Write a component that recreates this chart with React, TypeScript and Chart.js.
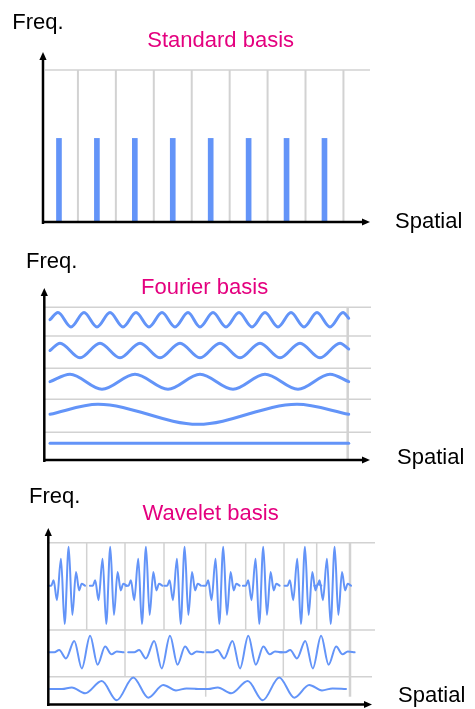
import React, { useEffect, useRef } from 'react';
import { Chart, registerables } from 'chart.js';
Chart.register(...registerables);

// ---------- Panel 1: Standard basis ----------
const standardCells = [0.5, 1.5, 2.5, 3.5, 4.5, 5.5, 6.5, 7.5];
const standardHeights = [0.55, 0.55, 0.55, 0.55, 0.55, 0.55, 0.55, 0.55];
const standardDividers = [1, 2, 3, 4, 5, 6, 7, 8];

// ---------- Panel 2: Fourier basis (extrema positions, spatial units) ----------
const fourierFlat: number[] = [];
const fourierSlow = [48, 148, 247];
const fourierMid = [20, 52, 85, 118, 150, 183, 215, 248, 280];
const fourierHigh = [10, 30, 50, 70, 90, 110, 130, 150, 170, 190, 210, 230, 250, 270, 290];
const fourierHighest = [8, 21, 34, 47, 60, 73, 86, 99, 112, 125, 138, 150, 163, 176, 189, 202, 215, 228, 241, 254, 267, 280, 293];
const fourierEndValues = [0, 0, 0, 0.2, 0.2];
const fourierLevels = [16.7, 45.7, 78.3, 109.5, 140.3];
const fourierAmps = [0, 10, 7.5, 7.3, 7.2];
const fourierRowEdges = [27.7, 60.7, 91.7, 124, 152.7];
const fourierSpanEnd = 298.7;
const fourierEdgeLine = 297.7;

// ---------- Panel 3: Wavelet basis ----------
const waveletT = [0, 0.08, 0.145, 0.235, 0.345, 0.445, 0.555, 0.655, 0.755, 0.84, 0.91, 1];
const waveletV = [0, 0, 0.14, -0.37, 0.69, -0.98, 1.0, -0.75, 0.35, -0.12, 0.05, 0];
const waveletTopStarts = [0, 41.6, 77.3, 116, 154.6, 194.6, 236.3, 266];
const waveletMidStarts = [0, 79.9, 158.2, 231];
const waveletLowStarts = [1.7, 147.7];
const waveletWidths = [36.7, 75.3, 150];
const waveletLevels = [118.8, 52.2, 15.5];
const waveletAmps = [39, 16.5, 11.5];
const waveletRowEdges = [161.8, 74.5, 27.8];
const waveletTopDividers = [38.4, 76.7, 115.7, 157.4, 197.4, 235.7, 268.4];
const waveletMidDividers = [76.7, 157.4, 235];
const waveletLowDividers = [157.4];
const waveletEdgeLine = 301.7;

const BLUE = '#6394f8';
const GRAY = '#d2d2d2';
const FONT = "'Liberation Sans', Arial, Helvetica, sans-serif";

type Pt = { x: number; y: number };

const lineDs = (pts: Pt[], color: string, width: number, smooth = false, order = 1) => ({
  type: 'line' as const,
  data: pts,
  borderColor: color,
  borderWidth: width,
  pointRadius: 0,
  pointHoverRadius: 0,
  fill: false,
  tension: 0,
  cubicInterpolationMode: smooth ? 'monotone' : 'default',
  borderCapStyle: smooth ? 'round' : 'butt',
  borderJoinStyle: 'round',
  clip: false,
  order,
});

const arrowPlugin = {
  id: 'arrows',
  afterDatasetsDraw(chart: any, _args: any, opts: any) {
    const { ctx } = chart;
    const xs = chart.scales.x;
    const ys = chart.scales.y;
    const ax = xs.getPixelForValue(opts.yAxisAt);
    const y0 = ys.getPixelForValue(opts.yFrom);
    const y1 = ys.getPixelForValue(opts.yTip);
    const ay = ys.getPixelForValue(opts.xAxisAt);
    const x0 = xs.getPixelForValue(opts.xFrom);
    const x1 = xs.getPixelForValue(opts.xTip);
    const L = 8;
    const W = 3.6;
    ctx.save();
    ctx.strokeStyle = '#000';
    ctx.fillStyle = '#000';
    ctx.lineWidth = 2.5;
    ctx.beginPath();
    ctx.moveTo(ax, y0);
    ctx.lineTo(ax, y1 + L - 1);
    ctx.stroke();
    ctx.beginPath();
    ctx.moveTo(ax, y1);
    ctx.lineTo(ax - W, y1 + L);
    ctx.lineTo(ax + W, y1 + L);
    ctx.closePath();
    ctx.fill();
    ctx.beginPath();
    ctx.moveTo(x0, ay);
    ctx.lineTo(x1 - L + 1, ay);
    ctx.stroke();
    ctx.beginPath();
    ctx.moveTo(x1, ay);
    ctx.lineTo(x1 - L, ay - W);
    ctx.lineTo(x1 - L, ay + W);
    ctx.closePath();
    ctx.fill();
    ctx.restore();
  },
};

const baseOptions = (
  pad: { left: number; top: number; right: number; bottom: number },
  x: [number, number],
  y: [number, number],
  arrows: any
) => ({
  responsive: false,
  animation: false as const,
  devicePixelRatio: 1,
  events: [] as any[],
  layout: { padding: pad },
  plugins: { legend: { display: false }, tooltip: { enabled: false }, title: { display: false }, arrows },
  scales: {
    x: { type: 'linear' as const, min: x[0], max: x[1], display: false, offset: false },
    y: { type: 'linear' as const, min: y[0], max: y[1], display: false },
  },
});

function fourierRow(extrema: number[], i: number): Pt[] {
  const base = fourierLevels[i];
  const amp = fourierAmps[i];
  const pts: Pt[] = [{ x: 0, y: base }];
  extrema.forEach((ex, k) => pts.push({ x: ex, y: base + amp * (k % 2 === 0 ? 1 : -1) }));
  pts.push({ x: fourierSpanEnd, y: base + amp * fourierEndValues[i] });
  return pts;
}

function waveletRow(starts: number[], row: number): Pt[][] {
  const w = waveletWidths[row];
  const base = waveletLevels[row];
  const amp = waveletAmps[row];
  return starts.map((s) => waveletT.map((t, k) => ({ x: s + t * w, y: base + amp * waveletV[k] })));
}

function buildStandard(canvas: HTMLCanvasElement) {
  const datasets: any[] = [
    {
      type: 'bar',
      data: standardCells.map((c, i) => ({ x: c, y: standardHeights[i] })),
      backgroundColor: BLUE,
      borderWidth: 0,
      barThickness: 5,
      order: 1,
    },
    ...standardDividers.map((v) => lineDs([{ x: v, y: 0 }, { x: v, y: 1 }], GRAY, 2, false, 2)),
    lineDs([{ x: 0.13, y: 1 }, { x: 8.7, y: 1 }], GRAY, 1.5, false, 2),
  ];
  return new Chart(canvas, {
    type: 'line',
    data: { datasets },
    options: baseOptions({ left: 40, top: 70, right: 105, bottom: 487 }, [0, 8.7], [0, 1], {
      yAxisAt: 0.079, yFrom: -0.013, yTip: 1.118, xAxisAt: 0, xFrom: 0.053, xTip: 8.7,
    }) as any,
    plugins: [arrowPlugin],
  } as any);
}

function buildFourier(canvas: HTMLCanvasElement) {
  const rows = [fourierFlat, fourierSlow, fourierMid, fourierHigh, fourierHighest];
  const datasets: any[] = [
    ...rows.map((r, i) => lineDs(fourierRow(r, i), BLUE, 3, true, 1)),
    ...fourierRowEdges.map((yv) => lineDs([{ x: -5, y: yv }, { x: 321, y: yv }], GRAY, 1.5, false, 2)),
    lineDs([{ x: fourierEdgeLine, y: 0 }, { x: fourierEdgeLine, y: 152.7 }], GRAY, 2.5, false, 2),
  ];
  return new Chart(canvas, {
    type: 'line',
    data: { datasets },
    options: baseOptions({ left: 44, top: 307.3, right: 104, bottom: 249 }, [-6, 321], [0, 152.7], {
      yAxisAt: -5.7, yFrom: -2, yTip: 172, xAxisAt: 0, xFrom: -6, xTip: 320,
    }) as any,
    plugins: [arrowPlugin],
  } as any);
}

function buildWavelet(canvas: HTMLCanvasElement) {
  const waves = [
    ...waveletRow(waveletTopStarts, 0),
    ...waveletRow(waveletMidStarts, 1),
    ...waveletRow(waveletLowStarts, 2),
  ];
  const rowTop = waveletRowEdges;
  const datasets: any[] = [
    ...waves.map((pts) => lineDs(pts, BLUE, 2, true, 1)),
    lineDs([{ x: 0.7, y: rowTop[0] }, { x: 326.7, y: rowTop[0] }], GRAY, 1.5, false, 2),
    lineDs([{ x: 0.7, y: rowTop[1] }, { x: 326.7, y: rowTop[1] }], GRAY, 1.5, false, 2),
    lineDs([{ x: 0.7, y: rowTop[2] }, { x: 323.7, y: rowTop[2] }], GRAY, 1.5, false, 2),
    ...waveletTopDividers.map((v) => lineDs([{ x: v, y: rowTop[1] }, { x: v, y: rowTop[0] }], GRAY, 1.5, false, 2)),
    ...waveletMidDividers.map((v) => lineDs([{ x: v, y: rowTop[2] }, { x: v, y: rowTop[1] }], GRAY, 1.5, false, 2)),
    ...waveletLowDividers.map((v) => lineDs([{ x: v, y: 7.8 }, { x: v, y: rowTop[2] }], GRAY, 1.5, false, 2)),
    lineDs([{ x: waveletEdgeLine, y: 7.8 }, { x: waveletEdgeLine, y: rowTop[0] }], GRAY, 2.5, false, 2),
  ];
  return new Chart(canvas, {
    type: 'line',
    data: { datasets },
    options: baseOptions({ left: 48.3, top: 542.7, right: 100, bottom: 4.5 }, [0, 326.7], [0, 161.8], {
      yAxisAt: 0, yFrom: -1.5, yTip: 176.5, xAxisAt: 0, xFrom: -1.3, xTip: 323.7,
    }) as any,
    plugins: [arrowPlugin],
  } as any);
}

const labels: { text: string; left: number; top: number; color: string }[] = [
  { text: 'Freq.', left: 12.2, top: 10.7, color: '#000' },
  { text: 'Standard basis', left: 147.3, top: 28.6, color: '#e4007f' },
  { text: 'Spatial', left: 395, top: 210, color: '#000' },
  { text: 'Freq.', left: 26, top: 250, color: '#000' },
  { text: 'Fourier basis', left: 141, top: 276.4, color: '#e4007f' },
  { text: 'Spatial', left: 397, top: 446.4, color: '#000' },
  { text: 'Freq.', left: 29, top: 485, color: '#000' },
  { text: 'Wavelet basis', left: 142.5, top: 502.4, color: '#e4007f' },
  { text: 'Spatial', left: 398, top: 684.4, color: '#000' },
];

export default function App() {
  const r1 = useRef<HTMLCanvasElement>(null);
  const r2 = useRef<HTMLCanvasElement>(null);
  const r3 = useRef<HTMLCanvasElement>(null);

  useEffect(() => {
    const charts: Chart[] = [];
    if (r1.current) charts.push(buildStandard(r1.current));
    if (r2.current) charts.push(buildFourier(r2.current));
    if (r3.current) charts.push(buildWavelet(r3.current));
    return () => charts.forEach((c) => c.destroy());
  }, []);

  const cStyle: React.CSSProperties = { position: 'absolute', left: 0, top: 0, width: 475, height: 709, display: 'block' };

  return (
    <div style={{ position: 'absolute', left: 0, top: 0, width: 475, height: 709, background: '#fff', overflow: 'hidden' }}>
      <canvas ref={r1} width={475} height={709} style={cStyle} />
      <canvas ref={r2} width={475} height={709} style={cStyle} />
      <canvas ref={r3} width={475} height={709} style={cStyle} />
      {labels.map((l, i) => (
        <div
          key={i}
          style={{
            position: 'absolute',
            left: l.left,
            top: l.top,
            color: l.color,
            fontFamily: FONT,
            fontSize: 22,
            lineHeight: '22px',
            whiteSpace: 'nowrap',
          }}
        >
          {l.text}
        </div>
      ))}
    </div>
  );
}
